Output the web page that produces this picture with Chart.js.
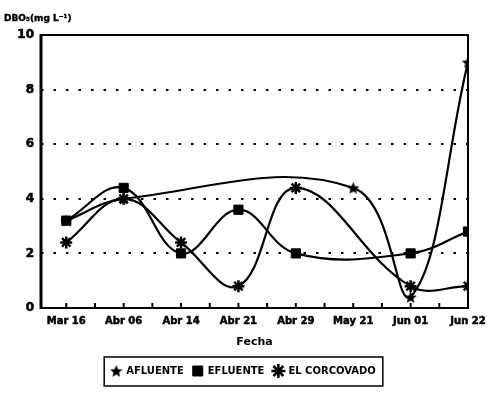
<!DOCTYPE html>
<html>
<head>
<meta charset="utf-8">
<script src="https://cdn.jsdelivr.net/npm/chart.js@4/dist/chart.umd.min.js"></script>
<style>
  html, body { margin: 0; padding: 0; background: #fff; }
  #wrap { width: 487px; height: 393px; position: relative; }
</style>
</head>
<body>
<div id="wrap"><canvas id="c" width="487" height="393"></canvas></div>
<script>
// Sampling dates and DBO5 values (mg/L) for each sampling point
const fechas = ['Mar 16', 'Abr 06', 'Abr 14', 'Abr 21', 'Abr 29', 'May 21', 'Jun 01', 'Jun 22'];
const afluente = [3.2, 4.0, null, null, null, 4.4, 0.4, 9.0];
const efluente = [3.2, 4.4, 2.0, 3.6, 2.0, null, 2.0, 2.8];
const corcovado = [2.4, 4.0, 2.4, 0.8, 4.4, null, 0.8, 0.8];
const yTicks = [0, 2, 4, 6, 8, 10];
const yTitle = 'DBO\u2085(mg L\u207B\u00B9)';
const xTitle = 'Fecha';
const nombres = ['AFLUENTE', 'EFLUENTE', 'EL CORCOVADO'];

const FONT = "'DejaVu Sans', sans-serif";

// filled five-pointed star used as the marker of the inflow series
function makeStar(size) {
  const c = document.createElement('canvas');
  c.width = size; c.height = size;
  const g = c.getContext('2d');
  const cx = size / 2, cy = size / 2 + 0.5, R = size / 2, r = R * 0.45;
  g.beginPath();
  for (let i = 0; i < 10; i++) {
    const a = -Math.PI / 2 + i * Math.PI / 5;
    const rad = i % 2 === 0 ? R : r;
    const px = cx + rad * Math.cos(a), py = cy + rad * Math.sin(a);
    if (i === 0) g.moveTo(px, py); else g.lineTo(px, py);
  }
  g.closePath();
  g.fillStyle = '#000';
  g.fill();
  return c;
}
const starImg = makeStar(13);

function toPoints(arr) {
  return arr.map((v, i) => ({ x: i, y: v })).filter(p => p.y !== null);
}

// frame around the plot, inward tick marks on the date axis, y-axis title, legend box
const decor = {
  id: 'decor',
  afterLayout(chart) {
    // centre the legend on the whole canvas rather than on the padded area
    const lg = chart.legend;
    if (lg) {
      const shift = (chart.width - (lg.left + lg.right)) / 2;
      lg.left += shift;
      lg.right += shift;
    }
  },
  afterDraw(chart) {
    const { ctx, chartArea: a } = chart;
    const xs = chart.scales.x;
    ctx.save();
    ctx.strokeStyle = '#000';
    ctx.lineWidth = 2;
    ctx.strokeRect(a.left, a.top, a.right - a.left, a.bottom - a.top);
    ctx.lineWidth = 3;
    ctx.beginPath();
    ctx.moveTo(a.left, a.top - 1); ctx.lineTo(a.left, a.bottom + 1);
    ctx.stroke();
    ctx.lineWidth = 2;
    for (let v = 0; v <= fechas.length - 1; v += 0.5) {
      const px = xs.getPixelForValue(v);
      ctx.beginPath();
      ctx.moveTo(px, a.bottom);
      ctx.lineTo(px, a.bottom - 5);
      ctx.stroke();
    }
    ctx.fillStyle = '#000';
    ctx.font = "bold 9px " + FONT;
    ctx.textAlign = 'left';
    ctx.textBaseline = 'middle';
    ctx.lineWidth = 0.4;
    ctx.fillText(yTitle, 4, a.top - 16);
    ctx.strokeText(yTitle, 4, a.top - 16);

    const lg = chart.legend;
    if (lg && lg.legendHitBoxes && lg.legendHitBoxes.length) {
      const hb = lg.legendHitBoxes;
      const l = Math.min(...hb.map(h => h.left)) - 7;
      const r = Math.max(...hb.map(h => h.left + h.width)) + 7;
      ctx.lineWidth = 1.5;
      ctx.strokeRect(l, lg.top, r - l, lg.bottom - lg.top);
    }
    ctx.restore();
  }
};

const common = {
  borderColor: '#000',
  backgroundColor: '#000',
  borderWidth: 2.2,
  tension: 0.4,
  spanGaps: true,
  pointBorderColor: '#000',
  pointBackgroundColor: '#000'
};

new Chart(document.getElementById('c'), {
  type: 'line',
  data: {
    datasets: [
      Object.assign({}, common, {
        label: nombres[0],
        data: toPoints(afluente),
        pointStyle: starImg,
        pointRadius: 6
      }),
      Object.assign({}, common, {
        label: nombres[1],
        data: toPoints(efluente),
        pointStyle: 'rect',
        pointRadius: 6.5,
        pointBorderWidth: 1
      }),
      Object.assign({}, common, {
        label: nombres[2],
        data: toPoints(corcovado),
        pointStyle: 'star',
        pointRadius: 6,
        pointBorderWidth: 2.5
      })
    ]
  },
  options: {
    responsive: false,
    animation: false,
    events: [],
    layout: { padding: { top: 35, left: 5, right: 19, bottom: 7 } },
    font: { family: FONT },
    scales: {
      x: {
        type: 'linear',
        min: -0.44,
        max: fechas.length - 1,
        afterBuildTicks(scale) {
          scale.ticks = fechas.map((_, i) => ({ value: i }));
        },
        afterFit(scale) {
          scale.height = 49;
          scale.paddingLeft = 0;
          scale.paddingRight = 0;
        },
        grid: { display: false, drawTicks: false },
        border: { display: false },
        ticks: {
          autoSkip: false,
          maxRotation: 0,
          padding: 7,
          color: '#000',
          textStrokeColor: '#000',
          textStrokeWidth: 0.5,
          font: { family: FONT, size: 10, weight: 'bold' },
          callback: (v) => fechas[v] !== undefined ? fechas[v] : ''
        },
        title: {
          display: true,
          text: xTitle,
          color: '#000',
          font: { family: FONT, size: 11, weight: 'bold' },
          padding: { top: 0, bottom: 8 }
        }
      },
      y: {
        min: 0,
        max: 10,
        afterBuildTicks(scale) {
          scale.ticks = yTicks.map(v => ({ value: v }));
        },
        afterFit(scale) { scale.width = 36; },
        grid: {
          drawTicks: false,
          lineWidth: 2,
          color: (c) => (c.tick && (c.tick.value === 0 || c.tick.value === 10)) ? 'rgba(0,0,0,0)' : '#000'
        },
        border: { display: false, dash: [2.5, 10] },
        ticks: {
          padding: 7,
          color: '#000',
          textStrokeColor: '#000',
          textStrokeWidth: 0.6,
          font: { family: FONT, size: 12, weight: 'bold' }
        }
      }
    },
    plugins: {
      tooltip: { enabled: false },
      title: { display: false },
      legend: {
        display: true,
        position: 'bottom',
        labels: {
          usePointStyle: true,
          boxWidth: 10,
          boxHeight: 10,
          padding: 9,
          color: '#000',
          font: { family: FONT, size: 10, weight: 'bold' }
        }
      }
    }
  },
  plugins: [decor]
});
</script>
</body>
</html>
